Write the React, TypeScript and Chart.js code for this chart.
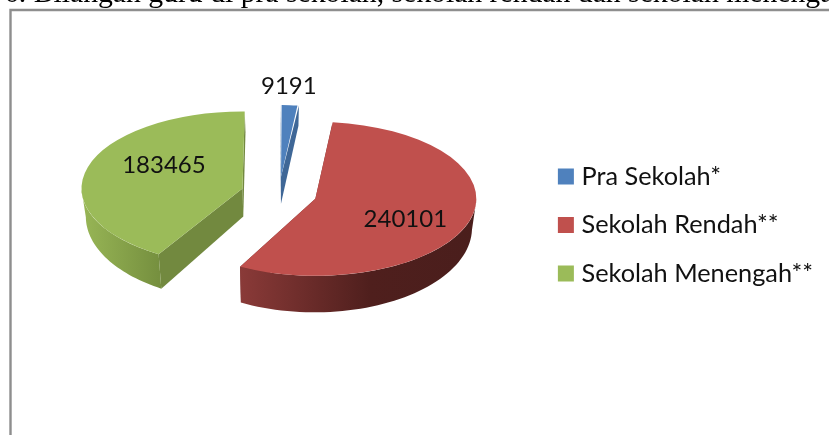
import React, { useEffect, useRef } from "react";
import { Chart, registerables } from "chart.js";

Chart.register(...registerables);

const categories = ["Pra Sekolah*", "Sekolah Rendah**", "Sekolah Menengah**"];
const teachers = [9191, 240101, 183465];
const topColors = ["#4f81bd", "#c0504d", "#9bbb59"];
const cutColors = ["#3f6797", "#7a3331", "#72893f"];
const wallLeftColors = ["#3f6797", "#8a3a38", "#98b656"];
const wallRightColors = ["#3f6797", "#4a1e1c", "#76903f"];
const explode = [140, 152, 152];
const titleText = "6. Bilangan guru di pra sekolah, sekolah rendah dan sekolah menengah";

const CX = 279;
const CY = 193.5;
const K = 0.478;
const DEG = Math.PI / 180;
const rimRadius = [150, 161, 161];
// small angular adjustment that imitates the perspective of the 3D pie: [start side, end side], degrees
const perspectiveSkew = [[0.3, -0.8], [1.5, 0.5], [-4, 0.8]];
// ArcElement draws an exploded wedge this many degrees narrower on each side
const arcNarrowing = [1.3, 2.1, 1.15];
const labelNudge = [[-3, 0], [-8.5, 6], [5, -12]];
const labelRadius = [1.267, 0.64, 0.54];

function project(px: number, py: number) {
  const d = 20 + ((py - 105) / 175) * 17;
  return [CX + (px - CX) * 0.978, py + d];
}

const pie3d = {
  id: "pie3d",
  afterDatasetsUpdate(chart: any) {
    chart.getDatasetMeta(0).data.forEach((arc: any, i: number) => {
      const circumference = arc.endAngle - arc.startAngle;
      const fix = 1 - Math.sin(Math.min(Math.PI, circumference));
      arc.outerRadius = rimRadius[i] - (explode[i] / 4) * fix;
      const rimStart = arc.startAngle - perspectiveSkew[i][0] * DEG;
      const rimEnd = arc.endAngle + perspectiveSkew[i][1] * DEG;
      arc.$rim = [rimStart, rimEnd];
      arc.startAngle = rimStart - arcNarrowing[i] * DEG;
      arc.endAngle = rimEnd + arcNarrowing[i] * DEG;
    });
  },
  beforeDraw(chart: any) {
    const ctx = chart.ctx;
    ctx.save();
    ctx.fillStyle = "#ffffff";
    ctx.fillRect(0, 0, chart.width, chart.height);
    ctx.fillStyle = "#000000";
    ctx.font = "29.7px 'Liberation Serif'";
    ctx.textBaseline = "alphabetic";
    ctx.fillText(titleText, 4, 2);
    ctx.strokeStyle = "#8e8e8e";
    ctx.lineWidth = 2.4;
    ctx.beginPath();
    ctx.moveTo(10.5, chart.height);
    ctx.lineTo(10.5, 10);
    ctx.lineTo(chart.width, 10);
    ctx.stroke();
    ctx.restore();
  },
  beforeDatasetsDraw(chart: any) {
    const ctx = chart.ctx;
    const arcs = chart.getDatasetMeta(0).data;
    const ox = arcs[0].x;
    const oy = arcs[0].y;
    const toScreen = (x: number, y: number) => [CX + (x - ox), CY + (y - oy) * K];
    arcs.forEach((arc: any, i: number) => {
      const mid = (arc.startAngle + arc.endAngle) / 2;
      const shift = arc.options.offset / 4;
      const ax = arc.x + Math.cos(mid) * shift;
      const ay = arc.y + Math.sin(mid) * shift;
      const r = rimRadius[i];
      const rim = (a: number) => toScreen(ax + Math.cos(a) * r, ay + Math.sin(a) * r);
      const apex = toScreen(ax, ay);
      const [rimStart, rimEnd] = arc.$rim;
      ctx.fillStyle = cutColors[i];
      [rimStart, rimEnd].forEach((a: number) => {
        const p = rim(a);
        const pb = project(p[0], p[1]);
        const ab = project(apex[0], apex[1]);
        ctx.beginPath();
        ctx.moveTo(apex[0], apex[1]);
        ctx.lineTo(p[0], p[1]);
        ctx.lineTo(pb[0], pb[1]);
        ctx.lineTo(ab[0], ab[1]);
        ctx.closePath();
        ctx.fill();
      });
      const norm = (a: number) => ((a % (2 * Math.PI)) + 2 * Math.PI) % (2 * Math.PI);
      const steps = 90;
      const top: number[][] = [];
      for (let s = 0; s <= steps; s++) {
        const a = rimStart + ((rimEnd - rimStart) * s) / steps;
        if (norm(a) <= Math.PI) top.push(rim(a));
      }
      if (top.length > 1) {
        const xs = top.map((p) => p[0]);
        const g = ctx.createLinearGradient(Math.min(...xs), 0, Math.max(...xs), 0);
        g.addColorStop(0, wallLeftColors[i]);
        if (i === 1) g.addColorStop(0.55, "#4f1f1d");
        g.addColorStop(1, wallRightColors[i]);
        ctx.fillStyle = g;
        ctx.beginPath();
        top.forEach((p, n) => (n ? ctx.lineTo(p[0], p[1]) : ctx.moveTo(p[0], p[1])));
        [...top].reverse().forEach((p) => {
          const b = project(p[0], p[1]);
          ctx.lineTo(b[0], b[1]);
        });
        ctx.closePath();
        ctx.fill();
      }
    });
    ctx.save();
    ctx.translate(CX, CY);
    ctx.scale(1, K);
    ctx.translate(-ox, -oy);
  },
  afterDatasetsDraw(chart: any) {
    const ctx = chart.ctx;
    ctx.restore();
    const arcs = chart.getDatasetMeta(0).data;
    const ox = arcs[0].x;
    const oy = arcs[0].y;
    ctx.save();
    ctx.fillStyle = "#111111";
    ctx.font = "24px Lato";
    ctx.textAlign = "center";
    ctx.textBaseline = "middle";
    arcs.forEach((arc: any, i: number) => {
      const mid = (arc.startAngle + arc.endAngle) / 2;
      const shift = arc.options.offset / 4;
      const dist = rimRadius[i] * labelRadius[i] + shift;
      const x = CX + (arc.x - ox) + Math.cos(mid) * dist + labelNudge[i][0];
      const y = CY + (arc.y - oy + Math.sin(mid) * dist) * K + labelNudge[i][1];
      ctx.fillText(String(teachers[i]), x, y);
    });
    ctx.restore();
  },
};

export default function App() {
  const ref = useRef<HTMLCanvasElement>(null);
  useEffect(() => {
    const chart = new Chart(ref.current as HTMLCanvasElement, {
      type: "pie",
      data: {
        labels: categories,
        datasets: [
          {
            data: teachers,
            backgroundColor: topColors,
            borderWidth: 0,
            offset: explode,
            radius: 123,
            clip: false,
          } as any,
        ],
      },
      options: {
        responsive: false,
        animation: false,
        layout: { padding: { top: 15, right: 6 } },
        plugins: {
          tooltip: { enabled: false },
          legend: {
            position: "right",
            labels: {
              color: "#111111",
              font: { family: "Lato", size: 25.3 },
              boxWidth: 6,
              boxHeight: 6,
              padding: 23.2,
              generateLabels: () =>
                categories.map((text, i) => ({
                  text,
                  fillStyle: topColors[i],
                  strokeStyle: topColors[i],
                  lineWidth: 10,
                  fontColor: "#111111",
                  index: i,
                })),
            },
          },
        },
      },
      plugins: [pie3d],
    });
    return () => chart.destroy();
  }, []);
  return (
    <canvas
      ref={ref}
      width={829}
      height={435}
      style={{ position: "absolute", left: 0, top: 0, display: "block" }}
    />
  );
}
